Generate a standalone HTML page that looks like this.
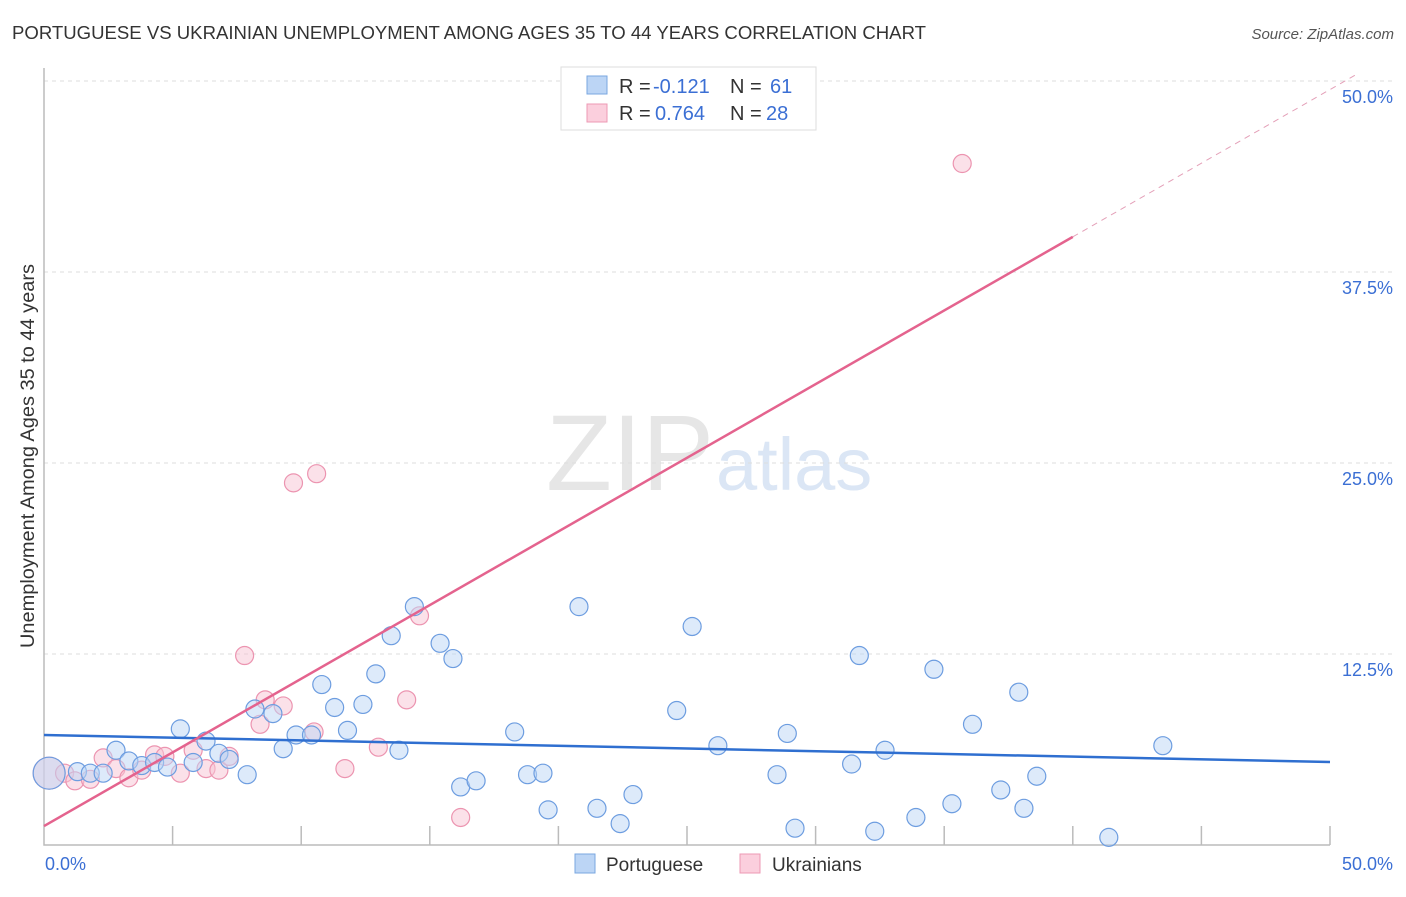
<!DOCTYPE html>
<html><head><meta charset="utf-8"><style>
body{margin:0;background:#fff;font-family:"Liberation Sans",sans-serif}
svg text{font-family:"Liberation Sans",sans-serif}
</style></head><body>
<svg id="c" width="1406" height="892" xmlns="http://www.w3.org/2000/svg">
<text x="12" y="39" font-size="18" fill="#333" textLength="914" lengthAdjust="spacingAndGlyphs">PORTUGUESE VS UKRAINIAN UNEMPLOYMENT AMONG AGES 35 TO 44 YEARS CORRELATION CHART</text>
<text x="1394" y="39" font-size="15" fill="#555" font-style="italic" text-anchor="end">Source: ZipAtlas.com</text>
<text x="714" y="490" font-size="108" fill="#e6e6e6" text-anchor="end" font-family="Liberation Serif">ZIP</text>
<text x="716" y="490" font-size="74" fill="#dbe6f5">atlas</text>
<text transform="translate(34,456) rotate(-90)" font-size="19" fill="#333" text-anchor="middle" textLength="384" lengthAdjust="spacingAndGlyphs">Unemployment Among Ages 35 to 44 years</text>
<g id="grid"></g><g id="pts"></g><g id="lines"></g>
<g>
<rect x="561" y="67" width="255" height="63" fill="#fff" stroke="#ddd"/>
<rect x="587" y="76" width="20" height="18" fill="#bcd5f5" stroke="#7aa7e0"/>
<rect x="587" y="104" width="20" height="18" fill="#fbcfdd" stroke="#ec9ab4"/>
<text x="619" y="93" font-size="20" fill="#333">R = <tspan x="653" fill="#3b6fd4">-0.121</tspan><tspan x="730">N = </tspan><tspan x="770" fill="#3b6fd4">61</tspan></text>
<text x="619" y="120" font-size="20" fill="#333">R = <tspan x="655" fill="#3b6fd4">0.764</tspan><tspan x="730">N = </tspan><tspan x="766" fill="#3b6fd4">28</tspan></text>
</g>
<g>
<rect x="575" y="854" width="20" height="19" fill="#bcd5f5" stroke="#7aa7e0"/>
<text x="606" y="871" font-size="19" fill="#333">Portuguese</text>
<rect x="740" y="854" width="20" height="19" fill="#fbcfdd" stroke="#ec9ab4"/>
<text x="772" y="871" font-size="19" fill="#333">Ukrainians</text>
</g>
</svg>
<script>
const yTicks=[12.5,25,37.5,50];
const yTickLabels=["12.5%","25.0%","37.5%","50.0%"];
const xTickLabels=["0.0%","50.0%"];
const portX=[0.2,1.3,1.8,2.3,2.8,3.3,3.8,4.3,4.8,5.3,5.8,6.3,6.8,7.2,7.9,8.2,8.9,9.3,9.8,10.4,10.8,11.3,11.8,12.4,12.9,13.5,13.8,14.4,15.4,15.9,16.2,16.8,18.3,18.8,19.4,19.6,20.8,21.5,22.4,22.9,24.6,25.2,26.2,28.5,28.9,29.2,31.4,31.7,32.3,32.7,33.9,34.6,35.3,36.1,37.2,37.9,38.1,38.6,41.4,43.5];
const portY=[4.7,4.8,4.7,4.7,6.2,5.5,5.2,5.4,5.1,7.6,5.4,6.8,6.0,5.6,4.6,8.9,8.6,6.3,7.2,7.2,10.5,9.0,7.5,9.2,11.2,13.7,6.2,15.6,13.2,12.2,3.8,4.2,7.4,4.6,4.7,2.3,15.6,2.4,1.4,3.3,8.8,14.3,6.5,4.6,7.3,1.1,5.3,12.4,0.9,6.2,1.8,11.5,2.7,7.9,3.6,10.0,2.4,4.5,0.5,6.5];
const ukrX=[0.2,0.8,1.2,1.8,2.3,2.8,3.3,3.8,4.3,4.7,5.3,5.8,6.3,6.8,7.2,7.8,8.4,8.6,9.3,9.7,10.5,10.6,11.7,13.0,14.1,14.6,16.2,35.7];
const ukrY=[4.7,4.7,4.2,4.3,5.7,5.0,4.4,4.9,5.9,5.8,4.7,6.2,5.0,4.9,5.8,12.4,7.9,9.5,9.1,23.7,7.4,24.3,5.0,6.4,9.5,15.0,1.8,44.6];
const portFit=[7.2,5.43];
const ukrFit=[1.24,0.964];
const X0=44,X1=1330,Y0=845,Y1=81;
const sx=v=>X0+(X1-X0)*v/50, sy=v=>Y0-(Y0-Y1)*v/50;
const NS="http://www.w3.org/2000/svg";
function mk(t,a,p){const e=document.createElementNS(NS,t);for(const k in a)e.setAttribute(k,a[k]);p.appendChild(e);return e;}
const g=document.getElementById('grid');
yTicks.forEach((v,i)=>{
 const l=mk('line',{x1:X0,x2:1394,y1:sy(v),y2:sy(v),stroke:'#ddd','stroke-dasharray':'4,4'},g);
 
 
 const t=mk('text',{x:1393,y:sy(v)+22,'font-size':18,fill:'#3b6fd4','text-anchor':'end'},g);
 t.textContent=yTickLabels[i];
 
 
});
const ax=mk('path',{d:`M${X0} 68V${Y0}H${X1}`,stroke:'#bbb',fill:'none','stroke-width':1.5},g);


for(let i=1;i<=10;i++){const tk=mk('line',{x1:sx(i*5),x2:sx(i*5),y1:Y0,y2:Y0-19,stroke:'#bbb','stroke-width':1.5},g);
 
 }
xTickLabels.forEach((s,i)=>{const t=mk('text',{x:i?1393:45,y:870,'font-size':18,fill:'#3b6fd4','text-anchor':i?'end':'start'},g);t.textContent=s;
 
 });
const p=document.getElementById('pts');
function pts(xs,ys,fill,stroke,name){xs.forEach((x,i)=>{const c=mk('circle',{cx:sx(x),cy:sy(ys[i]),r:i==0?16:9,fill:fill,'fill-opacity':0.5,stroke:stroke,'stroke-width':1.2},p);
 
 });}
pts(ukrX,ukrY,'#f8c3d4','#ec94b0','ukrainian-point');
pts(portX,portY,'#bcd5f5','#6d9de0','portuguese-point');
const L=document.getElementById('lines');
const bl=mk('line',{x1:sx(0),y1:sy(portFit[0]),x2:sx(50),y2:sy(portFit[1]),stroke:'#2f6fd0','stroke-width':2.5},L);


const f=x=>ukrFit[0]+ukrFit[1]*x;
const pl=mk('line',{x1:sx(0),y1:sy(f(0)),x2:sx(40),y2:sy(f(40)),stroke:'#e4638e','stroke-width':2.5},L);


const pd=mk('line',{x1:sx(40),y1:sy(f(40)),x2:sx(51),y2:sy(f(51)),stroke:'#e4a0b8','stroke-width':1,'stroke-dasharray':'6,5'},L);


</script>
</body></html>
